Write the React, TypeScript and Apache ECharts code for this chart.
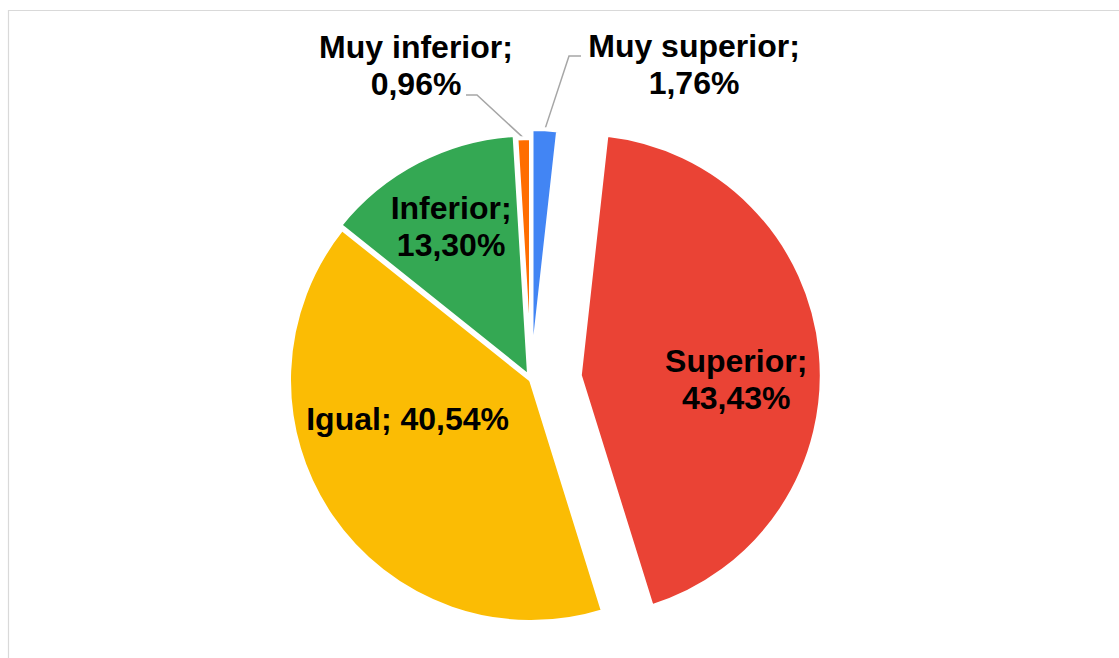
import React, { useEffect, useRef } from 'react';
import * as echarts from 'echarts';

const categories = ['Muy superior', 'Superior', 'Igual', 'Inferior', 'Muy inferior'];
const values = [1.76, 43.43, 40.54, 13.3, 0.96];
const colors = ['#4285F4', '#EA4335', '#FBBC04', '#34A853', '#FF6D01'];
// slice explosion (px) per category
const sliceOffsets = [9, 49, 0, 4, 0];
const outsideIndices = [0, 4];
const singleLineIndices = [2];

// label placement (not data)
const insideShift: Record<number, [number, number]> = {
  1: [33, 16],
  2: [-21, -31],
  3: [-21, -40],
};
const outsideLabel: Record<number, { x: number; y: number; line: number[][] }> = {
  0: { x: 694, y: 64, line: [[569, 56], [581, 56]] },
  4: { x: 416, y: 65, line: [[477, 95], [466, 95]] },
};

const fmt = (v: number) => v.toFixed(2).replace('.', ',');

export default function App() {
  const ref = useRef<HTMLDivElement>(null);
  useEffect(() => {
    if (!ref.current) return;
    const chart = echarts.init(ref.current, undefined, { renderer: 'svg' });
    const total = values.reduce((a, b) => a + b, 0);
    const midAngles: number[] = [];
    let cum = 0;
    values.forEach((v) => {
      midAngles.push(((cum + v / 2) / total) * Math.PI * 2);
      cum += v;
    });
    const groups = Array.from(new Set([0, ...sliceOffsets]));
    const labelStyle = {
      color: '#000000',
      fontFamily: "'Liberation Sans', Arial, sans-serif",
      fontWeight: 'bold',
      fontSize: 32,
      lineHeight: 37,
      align: 'center',
      formatter: (p: any) =>
        singleLineIndices.includes(p.dataIndex)
          ? `${p.name}; ${fmt(p.value)}%`
          : `${p.name};\n${fmt(p.value)}%`,
    };
    const series = groups.map((off) => {
      const data = categories.map((name, i) => {
        const mine = sliceOffsets[i] === off;
        const outside = outsideIndices.includes(i);
        // outside labels always live in the unexploded series
        const labelHere = outside ? off === 0 : mine;
        return {
          name,
          value: values[i],
          selected: mine && off > 0,
          itemStyle: mine
            ? { color: colors[i] }
            : { color: 'rgba(0,0,0,0)', borderWidth: 0 },
          label: labelHere
            ? { show: true, position: outside ? 'outside' : 'inside' }
            : { show: false },
          labelLine: { show: labelHere && outside },
        };
      });
      return {
        type: 'pie',
        center: [531, 380],
        radius: 242,
        startAngle: 90,
        clockwise: true,
        silent: true,
        selectedMode: off > 0 ? 'multiple' : false,
        selectedOffset: off,
        avoidLabelOverlap: false,
        itemStyle: { borderColor: '#ffffff', borderWidth: 4 },
        select: { itemStyle: { borderColor: '#ffffff', borderWidth: 4 } },
        emphasis: { disabled: true },
        label: { show: true, ...labelStyle },
        labelLine: {
          show: false,
          lineStyle: { color: '#a6a6a6', width: 1.5 },
        },
        labelLayout: (params: any) => {
          const i = params.dataIndex;
          if (outsideLabel[i]) {
            if (off !== 0) return {};
            const o = outsideLabel[i];
            const d = sliceOffsets[i];
            const p0 = params.labelLinePoints ? params.labelLinePoints[0] : o.line[0];
            const start = [
              p0[0] + d * Math.sin(midAngles[i]),
              p0[1] - d * Math.cos(midAngles[i]),
            ];
            return {
              x: o.x,
              y: o.y,
              align: 'center',
              verticalAlign: 'middle',
              labelLinePoints: [start, o.line[0], o.line[1]],
            };
          }
          if (sliceOffsets[i] !== off) return {};
          const s = insideShift[i];
          if (s) return { dx: s[0], dy: s[1] };
          return {};
        },
        data,
      };
    });
    chart.setOption({
      animation: false,
      backgroundColor: '#ffffff',
      graphic: [
        {
          type: 'rect',
          shape: { x: 8.5, y: 10.5, width: 1300, height: 800 },
          style: { fill: 'none', stroke: '#d9d9d9', lineWidth: 1.2 },
          silent: true,
        },
      ],
      series,
    });
    return () => chart.dispose();
  }, []);
  return (
    <div
      ref={ref}
      style={{ position: 'fixed', left: 0, top: 0, width: 1119, height: 658 }}
    />
  );
}
